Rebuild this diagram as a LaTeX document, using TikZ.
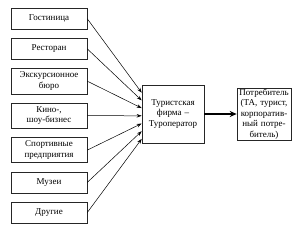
\documentclass[tikz,border=0pt]{standalone}
\usepackage{fontspec}
\setmainfont{Liberation Serif}
\usetikzlibrary{positioning, arrows.meta}

\begin{document}
\begin{tikzpicture}[
            node distance=8.5pt,
            every node/.style={font=\fontsize{9}{10.5}\selectfont},
            % Estilos de las cajas
            source/.style={rectangle, draw=black!85, line width=0.6pt, minimum width=76pt, minimum height=21pt, text width=72pt, inner xsep=2pt, inner ysep=3.5pt, align=center},
            firm/.style={rectangle, draw=black!85, line width=0.6pt, minimum width=62pt, minimum height=58pt, text width=58pt, inner sep=2pt, align=center},
            client/.style={rectangle, draw=black!85, line width=0.6pt, minimum width=54pt, minimum height=51pt, text width=52pt, inner sep=1pt, align=center},
            arrow/.style={line width=0.5pt, -{Stealth[length=5pt, width=3.5pt]}},
            bigarrow/.style={line width=1.8pt, -{Stealth[length=7pt, width=6pt]}}
        ]
            \useasboundingbox (0,0) rectangle (300pt,-233pt);

            % Proveedores (columna izquierda)
            \node (s1) [source, anchor=north] at (49pt,-8pt) {Гостиница};
            \node (s2) [source, below=of s1] {Ресторан};
            \node (s3) [source, below=of s2] {Экскурсионное\\ бюро};
            \node (s4) [source, below=of s3] {Кино-,\\ шоу-бизнес};
            \node (s5) [source, below=of s4] {Спортивные\\ предприятия};
            \node (s6) [source, below=of s5] {Музеи};
            \node (s7) [source, below=of s6] {Другие};

            % Empresa turística y consumidor
            \node (tf) [firm] at (173pt,-114pt) {Туристская\\ фирма –\\ Туроператор};
            \node (cons) [client] at (264pt,-114pt) {Потребитель\\ (ТА, турист,\\ корпоратив-\\ ный потре-\\ битель)};

            % Flechas hacia la empresa
            \foreach \i in {1,...,7}
                \draw [arrow] (s\i.east) -- ([yshift={-(8+7.7*(\i-1))*1pt}]tf.north west);

            % Flecha hacia el consumidor
            \draw [bigarrow] (tf.east) -- (cons.west);

        \end{tikzpicture}
\end{document}
